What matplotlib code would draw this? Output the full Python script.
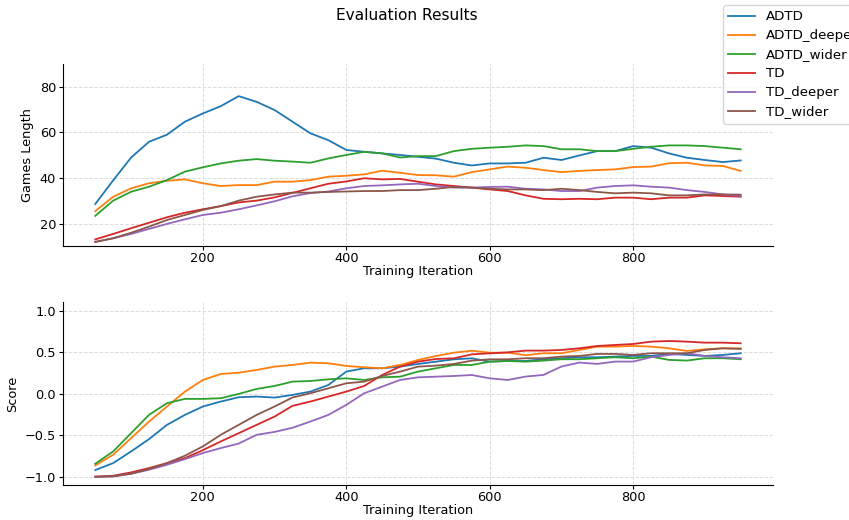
import matplotlib
matplotlib.use("Agg")
import matplotlib.pyplot as plt

# ── data (every 25 iterations) ────────────────────────────────────────────────
iters = list(range(50, 951, 25))

names = ["ADTD", "ADTD_deeper", "ADTD_wider", "TD", "TD_deeper", "TD_wider"]

len_adtd = [28.6, 39.0, 49.0, 55.9, 59.0, 64.7, 68.3, 71.5, 75.9, 73.4, 69.8, 64.7, 59.6,
            56.6, 52.3, 51.5, 50.8, 50.1, 49.3, 48.5, 46.7, 45.5, 46.4, 46.4, 46.7, 48.9,
            47.9, 49.9, 51.8, 51.8, 54.0, 53.3, 50.8, 48.9, 47.9, 47.0, 47.7]
len_adtd_deeper = [25.5, 31.8, 35.5, 37.7, 38.8, 39.4, 37.7, 36.5, 36.9, 36.9, 38.4, 38.4, 39.1,
                   40.6, 41.0, 41.6, 43.2, 42.3, 41.3, 41.2, 40.6, 42.6, 43.8, 45.0, 44.5, 43.5,
                   42.6, 43.1, 43.5, 43.8, 44.8, 45.0, 46.5, 46.7, 45.5, 45.3, 43.1]
len_adtd_wider = [23.4, 30.1, 34.0, 36.2, 39.1, 42.8, 44.7, 46.4, 47.6, 48.3, 47.6, 47.2, 46.7,
                  48.6, 50.1, 51.5, 50.8, 49.0, 49.6, 49.6, 51.8, 52.8, 53.3, 53.7, 54.3, 54.0,
                  52.6, 52.6, 51.8, 51.8, 52.8, 53.7, 54.3, 54.3, 54.0, 53.3, 52.6]
len_td = [13.1, 15.5, 18.0, 20.4, 22.8, 24.8, 26.3, 27.7, 29.3, 30.1, 31.5, 33.5, 35.5,
          37.5, 38.5, 39.9, 39.4, 39.6, 38.4, 37.2, 36.5, 35.8, 35.0, 34.3, 32.4, 30.9,
          30.7, 30.9, 30.7, 31.4, 31.4, 30.7, 31.4, 31.4, 32.4, 32.1, 31.8]
len_td_deeper = [12.0, 13.6, 15.5, 17.7, 19.9, 21.9, 23.8, 24.8, 26.3, 28.0, 29.8, 32.0, 33.4,
                 34.1, 35.5, 36.5, 36.8, 37.2, 37.5, 36.5, 35.8, 35.8, 36.1, 36.2, 35.3, 35.0,
                 34.3, 34.3, 35.8, 36.5, 36.8, 36.2, 35.8, 34.7, 33.9, 32.8, 32.1]
len_td_wider = [12.0, 13.6, 16.0, 18.7, 21.6, 23.8, 26.0, 27.7, 30.1, 31.8, 32.8, 33.6, 33.6,
                33.9, 34.1, 34.3, 34.3, 34.7, 34.7, 35.3, 36.1, 35.8, 35.3, 35.0, 35.0, 34.7,
                35.3, 34.7, 33.9, 33.3, 33.6, 33.3, 32.4, 32.4, 32.8, 32.8, 32.7]

score_adtd = [-0.92, -0.836, -0.695, -0.547, -0.375, -0.255, -0.154, -0.094, -0.042, -0.034,
              -0.046, -0.014, 0.026, 0.106, 0.267, 0.307, 0.307, 0.327, 0.359, 0.387, 0.415,
              0.427, 0.387, 0.395, 0.395, 0.416, 0.428, 0.44, 0.44, 0.448, 0.456, 0.456, 0.48,
              0.468, 0.456, 0.468, 0.488]
score_adtd_deeper = [-0.864, -0.735, -0.535, -0.335, -0.154, 0.026, 0.166, 0.238, 0.254, 0.287,
                     0.327, 0.347, 0.375, 0.367, 0.335, 0.319, 0.307, 0.347, 0.407, 0.455, 0.495,
                     0.519, 0.495, 0.495, 0.465, 0.488, 0.488, 0.528, 0.568, 0.568, 0.576, 0.568,
                     0.548, 0.516, 0.536, 0.548, 0.548]
score_adtd_wider = [-0.844, -0.695, -0.475, -0.254, -0.114, -0.062, -0.062, -0.054, -0.002, 0.058,
                    0.094, 0.146, 0.154, 0.174, 0.186, 0.166, 0.198, 0.206, 0.267, 0.307, 0.347,
                    0.347, 0.387, 0.395, 0.387, 0.4, 0.416, 0.416, 0.428, 0.44, 0.428, 0.448,
                    0.408, 0.4, 0.428, 0.428, 0.416]
score_td = [-1.0, -0.988, -0.948, -0.896, -0.836, -0.776, -0.68, -0.575, -0.475, -0.375,
            -0.275, -0.146, -0.094, -0.034, 0.026, 0.094, 0.226, 0.327, 0.387, 0.419, 0.427,
            0.475, 0.487, 0.499, 0.52, 0.52, 0.528, 0.548, 0.576, 0.588, 0.6, 0.628, 0.636,
            0.628, 0.616, 0.616, 0.608]
score_td_deeper = [-1.0, -0.996, -0.964, -0.916, -0.856, -0.788, -0.715, -0.655, -0.6, -0.495,
                   -0.46, -0.41, -0.335, -0.255, -0.134, 0.006, 0.086, 0.166, 0.198, 0.206,
                   0.214, 0.226, 0.186, 0.166, 0.207, 0.227, 0.328, 0.376, 0.36, 0.388, 0.388,
                   0.44, 0.468, 0.488, 0.456, 0.44, 0.428]
score_td_wider = [-1.0, -0.996, -0.964, -0.908, -0.836, -0.747, -0.635, -0.495, -0.375, -0.255,
                  -0.154, -0.045, 0.006, 0.066, 0.126, 0.146, 0.214, 0.267, 0.327, 0.339, 0.359,
                  0.399, 0.415, 0.415, 0.428, 0.428, 0.448, 0.456, 0.48, 0.48, 0.468, 0.488,
                  0.488, 0.488, 0.528, 0.548, 0.54]

lengths = [len_adtd, len_adtd_deeper, len_adtd_wider, len_td, len_td_deeper, len_td_wider]
scores = [score_adtd, score_adtd_deeper, score_adtd_wider, score_td, score_td_deeper, score_td_wider]

# ── plot ───────────────────────────────────────────────────────────────────────
plt.rcParams["font.size"] = 9.3
plt.rcParams["xtick.major.size"] = 3.0
plt.rcParams["ytick.major.size"] = 3.0
plt.rcParams["xtick.major.pad"] = 1.0
plt.rcParams["ytick.major.pad"] = 2.0

fig, (ax1, ax2) = plt.subplots(2, 1, figsize=(8.49, 5.2), dpi=100)
fig.subplots_adjust(left=0.0742, right=0.9105, top=0.877, bottom=0.0673, hspace=0.307)

for name, vals in zip(names, lengths):
    ax1.plot(iters, vals, lw=1.3, label=name)
for name, vals in zip(names, scores):
    ax2.plot(iters, vals, lw=1.3, label=name)

ax1.set_ylim(10, 90)
ax1.set_yticks([20, 40, 60, 80])
ax1.set_ylabel("Games Length")
ax2.set_ylim(-1.1, 1.1)
ax2.set_yticks([-1.0, -0.5, 0.0, 0.5, 1.0])
ax2.set_ylabel("Score")

for ax in (ax1, ax2):
    ax.set_xticks([200, 400, 600, 800])
    ax.set_xlabel("Training Iteration", labelpad=0)
    ax.grid(True, linestyle="--", color="#dcdcdc", linewidth=0.7)
    ax.spines["top"].set_visible(False)
    ax.spines["right"].set_visible(False)

fig.suptitle("Evaluation Results", x=0.479, y=0.985, fontsize=11.1)

handles, labels = ax1.get_legend_handles_labels()
fig.legend(handles, labels, loc="upper left", bbox_to_anchor=(723 / 849, 1 - 5 / 520),
           borderaxespad=0, fontsize=9.6, labelspacing=0.45)

fig.savefig("out.png", dpi=100)
